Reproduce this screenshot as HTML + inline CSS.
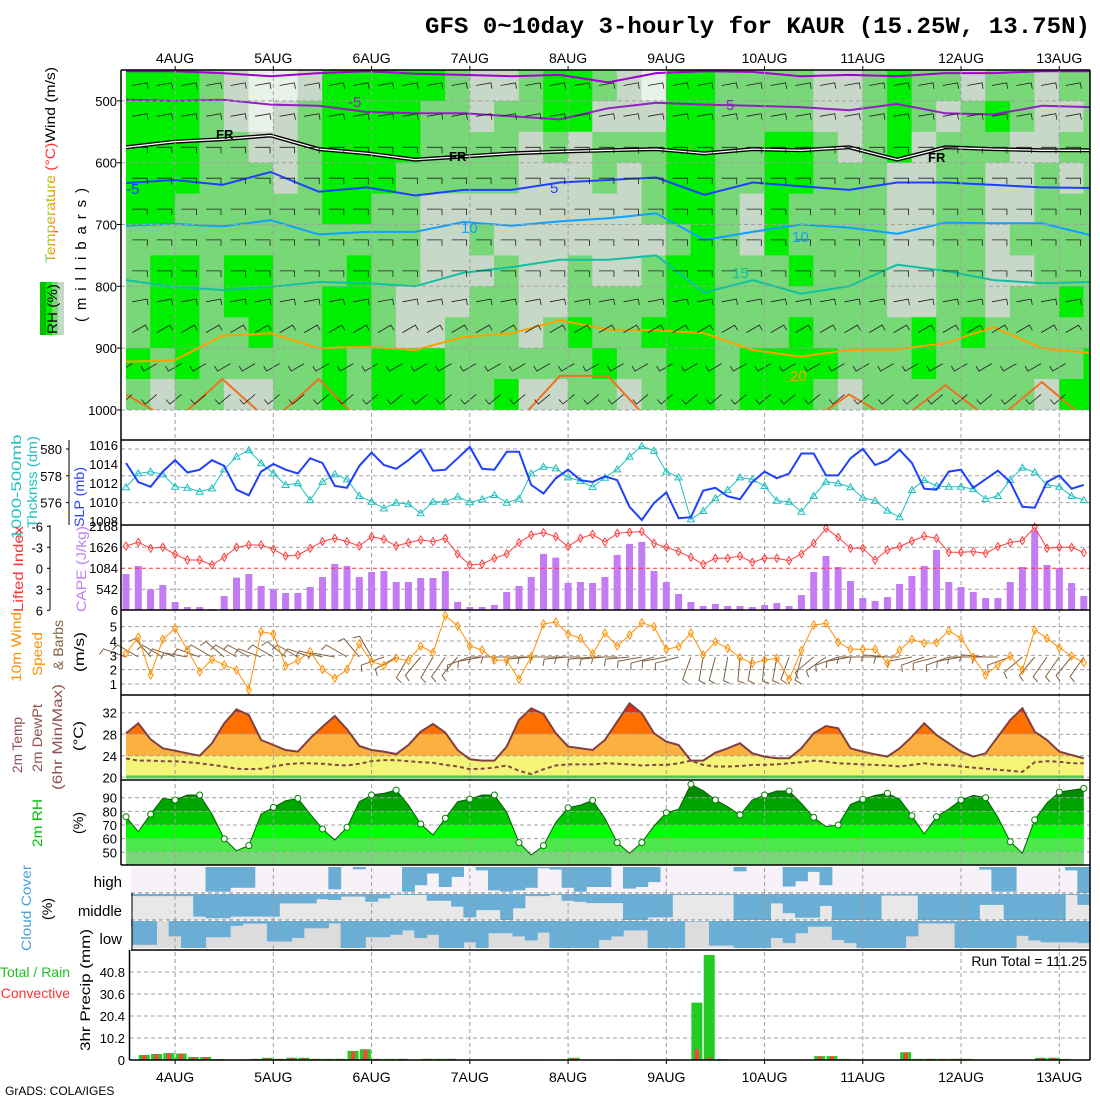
<!DOCTYPE html>
<html><head><meta charset="utf-8">
<style>
body{margin:0;background:#fff;width:1100px;height:1100px;overflow:hidden}
svg text{font-family:"Liberation Sans",sans-serif}
</style></head>
<body>
<svg id="chart" width="1100" height="1100" viewBox="0 0 1100 1100" xmlns="http://www.w3.org/2000/svg">
<defs>
<clipPath id="topClip"><rect x="126" y="70" width="964" height="340"/></clipPath>
<clipPath id="cloudClip"><rect x="131" y="865" width="959" height="85"/></clipPath>
<linearGradient id="tempGrad" x1="0" y1="1" x2="0" y2="0"><stop offset="0" stop-color="#ff3030"/><stop offset="0.35" stop-color="#ffa000"/><stop offset="0.6" stop-color="#a0d020"/><stop offset="1" stop-color="#00c8e0"/></linearGradient>
</defs>
<rect width="1100" height="1100" fill="#fff"/>
<text x="425" y="33" font-family="Liberation Mono, monospace" font-weight="bold" font-size="23" textLength="665" lengthAdjust="spacingAndGlyphs" style="font-family:'Liberation Mono',monospace">GFS 0~10day 3-hourly for KAUR (15.25W, 13.75N)</text>

<g id="layerFill"></g>
<g id="layerGrid"></g>
<g id="layerMarks"></g>
<g id="layerAxes"></g>

<!-- left labels -->
<g font-size="14">
<text transform="translate(55,165) rotate(-90)" text-anchor="middle" textLength="196" lengthAdjust="spacingAndGlyphs"><tspan fill="url(#tempGrad)">Temperature </tspan><tspan fill="#ff3030">(°C)</tspan><tspan fill="#000">Wind (m/s)</tspan></text>
<rect x="40" y="282" width="6" height="53" fill="#00c000"/>
<rect x="46" y="282" width="6" height="53" fill="#00ee00"/>
<rect x="52" y="282" width="6" height="53" fill="#78d878"/>
<rect x="58" y="282" width="6" height="53" fill="#c8d8c8"/>
<text transform="translate(57,309) rotate(-90)" text-anchor="middle" textLength="50" lengthAdjust="spacingAndGlyphs">RH (%)</text>
<text transform="translate(86,255) rotate(-90)" text-anchor="middle" font-size="15" textLength="134" lengthAdjust="spacing">(millibars)</text>
</g>
<g font-size="14">
<text transform="translate(21,487) rotate(-90)" text-anchor="middle" fill="#20c0c0" textLength="105" lengthAdjust="spacingAndGlyphs">1000-500mb</text>
<text transform="translate(37,482) rotate(-90)" text-anchor="middle" fill="#20c0c0" textLength="92" lengthAdjust="spacingAndGlyphs">Thcknss (dm)</text>
<text transform="translate(84,497) rotate(-90)" text-anchor="middle" fill="#3040ff" textLength="60" lengthAdjust="spacingAndGlyphs">SLP (mb)</text>
<text transform="translate(23,569) rotate(-90)" text-anchor="middle" fill="#ff3030" textLength="86" lengthAdjust="spacingAndGlyphs">Lifted Index</text>
<text transform="translate(86,569) rotate(-90)" text-anchor="middle" fill="#c080f0" textLength="86" lengthAdjust="spacingAndGlyphs">CAPE (J/kg)</text>
<text transform="translate(21,647) rotate(-90)" text-anchor="middle" fill="#ff9000" textLength="70" lengthAdjust="spacingAndGlyphs">10m Wind</text>
<text transform="translate(42,654) rotate(-90)" text-anchor="middle" fill="#ff9000" textLength="44" lengthAdjust="spacingAndGlyphs">Speed</text>
<text transform="translate(63,645) rotate(-90)" text-anchor="middle" fill="#806040" textLength="50" lengthAdjust="spacingAndGlyphs">&amp; Barbs</text>
<text transform="translate(84,652) rotate(-90)" text-anchor="middle" textLength="40" lengthAdjust="spacingAndGlyphs">(m/s)</text>
<text transform="translate(22,745) rotate(-90)" text-anchor="middle" fill="#905050" textLength="56" lengthAdjust="spacingAndGlyphs">2m Temp</text>
<text transform="translate(42,738) rotate(-90)" text-anchor="middle" fill="#905050" textLength="68" lengthAdjust="spacingAndGlyphs">2m DewPt</text>
<text transform="translate(62,737) rotate(-90)" text-anchor="middle" fill="#905050" textLength="106" lengthAdjust="spacingAndGlyphs">(6hr Min/Max)</text>
<text transform="translate(83,736) rotate(-90)" text-anchor="middle" textLength="30" lengthAdjust="spacingAndGlyphs">(°C)</text>
<text transform="translate(42,823) rotate(-90)" text-anchor="middle" fill="#00c000" textLength="48" lengthAdjust="spacingAndGlyphs">2m RH</text>
<text transform="translate(83,823) rotate(-90)" text-anchor="middle" textLength="22" lengthAdjust="spacingAndGlyphs">(%)</text>
<text transform="translate(31,908) rotate(-90)" text-anchor="middle" fill="#4aa0d8" textLength="86" lengthAdjust="spacingAndGlyphs">Cloud Cover</text>
<text transform="translate(52,909) rotate(-90)" text-anchor="middle" textLength="22" lengthAdjust="spacingAndGlyphs">(%)</text>
<text x="122" y="887" text-anchor="end" font-size="15">high</text>
<text x="122" y="916" text-anchor="end" font-size="15">middle</text>
<text x="122" y="944" text-anchor="end" font-size="15">low</text>
<text transform="translate(90,990) rotate(-90)" text-anchor="middle" textLength="122" lengthAdjust="spacingAndGlyphs">3hr Precip (mm)</text>
<text x="70" y="977" text-anchor="end" fill="#20c020">Total / Rain</text>
<text x="70" y="998" text-anchor="end" fill="#ff3030">Convective</text>
<text x="1087" y="966" text-anchor="end" font-size="14">Run Total = 111.25</text>
<text x="5" y="1095" font-size="12">GrADS: COLA/IGES</text>
</g>
<g font-size="15">
<text x="348" y="107" fill="#9020c0">-5</text>
<text x="726" y="110" fill="#9020c0">5</text>
<text x="216" y="139" font-size="13" font-weight="bold">FR</text>
<text x="449" y="161" font-size="13" font-weight="bold">FR</text>
<text x="928" y="162" font-size="13" font-weight="bold">FR</text>
<text x="126" y="194" fill="#2040ff">-5</text>
<text x="550" y="193" fill="#2040ff">5</text>
<text x="461" y="233" fill="#10a0ff">10</text>
<text x="792" y="242" fill="#10a0ff">10</text>
<text x="732" y="278" fill="#10c0a0">15</text>
<text x="790" y="381" fill="#ffa000">20</text>
</g>
</svg>

<script>
// ---------- data ----------
const dayLabels = ["4AUG","5AUG","6AUG","7AUG","8AUG","9AUG","10AUG","11AUG","12AUG","13AUG"];
const dayIndex = [4,12,20,28,36,44,52,60,68,76];
const pressureTicks = [500,600,700,800,900,1000];
const slpTicks = [1016,1014,1012,1010,1008];
const thickTicks = [580,578,576];
const liTicks = [-6,-3,0,3,6];
const capeTicks = [2168,1626,1084,542,6];
const windTicks = [1,2,3,4,5];
const tempTicks = [20,24,28,32];
const rhTicks = [50,60,70,80,90];
const precipTicks = [0,10.2,20.4,30.6,40.8];

const slp = [1014.1,1012.1,1011.6,1013.2,1014.4,1013.1,1013.4,1014.4,1013.8,1011.3,1010.7,1013.2,1014.0,1013.4,1013.0,1014.6,1014.1,1011.7,1011.5,1013.8,1015.2,1013.9,1013.5,1014.4,1015.5,1013.3,1013.4,1014.6,1015.8,1013.5,1013.4,1015.3,1015.3,1011.8,1010.9,1012.5,1013.4,1012.3,1012.1,1012.7,1012.3,1009.5,1008.1,1009.9,1011.0,1008.3,1008.4,1011.2,1011.5,1010.6,1010.3,1012.1,1013.2,1012.5,1013.0,1015.1,1015.1,1012.8,1012.8,1014.6,1015.6,1013.9,1014.4,1015.5,1014.1,1011.4,1011.3,1013.2,1013.4,1011.5,1012.4,1013.3,1012.1,1009.5,1009.4,1012.1,1012.8,1011.4,1011.8];
const thickness = [577.14,578.18,578.31,578.11,577.19,577.11,576.81,577.06,578.48,579.43,579.92,578.93,578.18,577.31,577.44,576.19,577.56,578.11,577.73,576.49,576.07,575.57,575.99,575.89,575.2,576.07,576.07,576.44,576.02,576.24,576.57,575.99,576.29,578.18,578.68,578.55,577.88,577.61,577.16,577.86,578.48,579.43,580.22,579.87,578.31,577.88,574.75,575.37,576.32,576.94,577.88,577.73,577.24,576.14,576.07,575.32,576.49,577.56,577.44,577.14,576.37,576.14,575.4,574.9,576.94,577.69,577.24,577.19,577.19,577.01,576.27,576.49,577.69,578.61,578.26,577.31,577.19,576.49,576.19];
const liftedIndex = [-3.19,-3.71,-2.86,-3.0,-2.0,-1.19,-1.19,-0.48,-1.57,-3.0,-3.33,-3.33,-2.71,-1.76,-1.9,-2.86,-3.81,-4.29,-3.81,-3.19,-4.52,-4.14,-3.19,-3.67,-4.05,-3.81,-4.29,-2.05,-0.48,-0.62,-1.43,-2.05,-3.67,-4.76,-5.1,-4.52,-3.1,-4.29,-4.86,-3.76,-5.0,-5.14,-5.24,-3.57,-3.0,-2.38,-1.57,-0.57,-1.43,-1.43,-1.76,-0.86,-1.43,-1.43,-1.1,-2.05,-3.57,-5.71,-4.43,-2.86,-2.86,-1.19,-2.62,-3.1,-3.9,-4.62,-4.29,-2.29,-2.29,-2.38,-2.14,-3.1,-3.67,-3.95,-5.86,-2.86,-3.0,-3.0,-2.24];
const cape = [929,1135,533,645,206,77,77,26,361,834,929,619,533,439,439,593,851,1187,1135,851,980,1006,722,722,826,826,1006,206,77,77,129,464,619,851,1445,1350,697,722,697,851,1419,1703,1754,1006,722,413,206,103,155,103,103,77,129,181,103,387,980,1393,1109,748,310,232,335,671,877,1135,1548,722,593,464,310,310,722,1109,2038,1161,1083,697,361];
const windSpeed = [3.14,4.26,1.63,4.12,4.88,3.37,1.86,2.72,2.33,1.98,0.6,4.65,4.49,2.26,2.63,3.26,2.02,1.4,2.02,3.79,2.56,2.3,2.79,2.63,3.65,3.19,5.77,5.05,3.65,3.37,2.67,2.67,1.33,2.91,5.19,5.33,4.49,4.19,3.09,4.56,3.65,4.42,5.28,5.0,3.42,3.6,4.56,3.02,3.95,3.49,2.84,2.44,2.67,2.79,1.33,3.33,5.12,5.23,3.91,3.42,3.42,3.42,2.44,3.37,4.12,3.84,3.88,4.72,4.19,2.86,1.63,2.33,2.95,1.98,4.77,4.19,3.53,2.95,2.49];
const windDir = [290,300,320,300,290,280,290,300,310,300,300,290,300,310,300,290,285,280,300,320,330,250,240,210,220,210,215,220,250,260,270,270,270,265,270,270,265,270,265,265,270,265,260,255,260,255,200,190,195,190,185,190,185,190,200,195,230,235,250,260,270,270,275,270,260,250,255,250,260,270,275,270,250,230,220,215,215,220,215];
const temp2m = [28.17,30.03,27.06,25.39,24.95,24.46,24.02,26.32,30.03,32.63,31.58,26.93,26.0,25.08,24.77,27.24,29.41,31.39,28.92,25.82,25.08,24.77,24.33,26.0,28.48,29.91,28.3,25.08,23.34,23.1,23.1,25.7,30.65,32.82,31.76,28.17,25.7,25.39,25.08,26.93,30.34,33.75,31.89,28.17,26.63,26.0,23.1,23.1,24.58,25.39,26.32,24.46,23.84,23.53,23.53,25.39,28.17,29.54,29.1,25.39,24.77,24.27,23.84,25.39,27.55,30.03,27.86,26.32,24.77,23.84,24.46,27.55,30.65,32.82,28.48,26.93,24.77,24.15,23.53];
const dewpt2m = [23.5,23.1,23.1,23.0,23.0,22.8,22.6,22.3,22.0,21.6,21.5,21.6,22.0,22.4,22.6,22.6,22.5,22.3,22.2,22.5,23.0,23.2,23.2,23.0,22.8,22.7,22.3,22.0,21.5,21.6,21.8,22.2,21.2,20.6,21.5,22.2,22.4,22.4,22.4,22.6,22.5,22.4,22.2,22.3,22.3,22.6,23.1,22.3,22.0,22.0,22.1,22.3,22.3,22.4,22.6,22.8,23.1,22.9,22.6,22.5,22.4,22.3,22.2,22.0,22.3,22.6,22.3,22.3,22.0,21.8,21.6,21.4,21.2,21.0,22.8,23.0,22.9,22.6,22.6];
const rh2m = [76.1,65.1,78.0,89.5,88.3,92.0,92.0,78.0,59.8,51.2,54.9,78.0,82.9,87.8,89.5,78.0,67.1,59.0,68.3,87.1,92.0,93.2,95.6,84.6,70.7,62.7,74.9,87.1,89.0,92.0,92.0,79.3,57.1,48.0,54.9,72.0,82.7,84.6,88.0,74.9,57.1,49.3,57.1,69.3,79.0,81.5,99.8,95.1,88.3,83.4,77.3,88.3,92.0,94.9,94.9,85.9,75.6,68.8,70.0,85.1,88.8,91.7,93.2,88.8,76.8,63.4,76.1,81.7,88.3,91.7,90.0,75.6,57.8,49.3,73.7,86.3,94.1,95.6,96.8];
const cloudHigh = [0,0,0,0,0,0,0,95,95,80,80,0,0,0,0,0,0,86,0,9,0,0,0,95,70,25,77,38,0,13,90,95,90,80,5,10,80,95,77,77,0,83,77,58,0,0,0,0,0,0,17,0,0,0,75,55,19,70,0,0,0,0,0,0,0,0,0,0,0,0,10,95,95,0,0,0,0,13,100];
const cloudMid = [8,8,8,8,8,8,87,93,93,87,87,87,87,36,36,36,20,23,10,10,30,17,4,4,4,26,26,49,90,62,62,100,55,8,8,4,26,30,35,35,35,100,100,90,90,4,4,4,4,4,100,100,100,36,74,91,91,46,100,100,100,100,6,6,6,100,100,100,100,100,42,42,100,100,100,100,100,4,42];
const cloudLow = [18,88,88,0,57,100,100,60,60,18,10,10,76,76,63,27,27,9,100,100,60,60,51,35,63,51,100,100,79,100,45,45,57,72,43,100,100,100,100,70,57,35,35,100,100,100,2,2,91,91,100,100,100,63,82,45,21,21,70,82,100,100,100,100,57,9,9,9,100,100,100,100,100,55,72,79,79,79,82];
const precipTotal = [0,2.3,2.8,3.2,3.0,1.4,1.4,0.4,0,0.3,0.5,1.0,0.5,1.0,1.0,0.5,0.5,0.5,4.2,5.0,0.5,0.5,0.5,0,0.5,0.5,0.5,0,0,0,0,0,0.3,0.3,0,0,1.0,0,0,0,0.3,0,0,0,0.3,0,26.6,48.7,0.4,0,0,0,0,0,0,0,1.8,1.8,0.5,0.3,0,0,0,3.6,0.5,0.5,0.5,0.5,0.5,0,0,0,0,0,1.0,1.0,0.5,0,0];
const precipConv = [0,2.2,2.7,3.2,2.9,1.3,1.4,0.3,0,0.3,0.5,0.9,0.5,1.0,0.9,0.5,0.4,0.5,4.0,4.8,0.5,0.4,0.5,0,0.5,0.4,0.5,0,0,0,0,0,0.3,0.3,0,0,0.9,0,0,0,0.3,0,0,0,0.3,0,5.0,1.2,0.3,0,0,0,0,0,0,0,1.7,1.7,0.4,0.3,0,0,0,3.5,0.4,0.5,0.4,0.5,0.4,0,0,0,0,0,0.9,1.0,0.4,0,0];
// RH cross-section categories (0 grey <70, 1 mid green, 2 bright >90, 3 pale), 11 layers 450-1000mb, 6-hourly columns
const rhLayerBase = [450,500,550,600,650,700,750,800,850,900,950];
const rhCodeRows = [
"2221033022222100122103221111001211011011",
"2221030122221101122000221111001210121001",
"2221100122221111010111221122101201110011",
"2221110122211111000101221122111001100101",
"2211111122110000000001221021111001100111",
"1111111111110010000000121021111001101111",
"1221221112110001001001221112111001100111",
"1221221122100011001111221111111001101121",
"1221121122100111012112221112111121211111",
"2121111121222111111211221222211121111112",
"1011001121222112001101221222101111111022"];
// isotherm pressures (mb), 12-hourly
const isoTop = [452,452,455,460,455,452,456,458,460,458,470,455,452,453,460,458,460,455,455,452,452];
const isoM5 = [498,500,498,506,508,518,520,520,525,530,512,503,506,508,510,515,505,520,522,508,510];
const isoFR = [575,566,562,556,578,585,595,590,585,582,580,578,585,578,580,575,595,575,578,580,580];
const isoP5 = [633,628,636,615,647,640,653,644,644,632,628,624,652,632,638,644,632,632,636,640,641];
const iso10 = [702,699,703,693,716,712,712,696,702,695,690,682,725,712,700,705,715,697,698,698,717];
const iso15 = [790,801,806,801,793,795,800,778,769,757,757,750,810,790,812,800,765,775,790,795,793];
const iso20 = [922,920,880,876,900,898,903,882,876,855,870,871,876,903,914,903,902,892,866,900,908];
const iso25 = [975,1020,950,1020,950,1030,1030,1030,1030,945,945,1030,1030,1030,1030,975,1020,960,1020,955,1020];
const levelWindDir = [80,80,90,90,90,90,90,80,60,240,230];

// ---------- scales ----------
const NS = 'http://www.w3.org/2000/svg';
const X0 = 126, DX = 12.28, XR = 1090;
const xAt = i => X0 + DX * i;
const yP = p => 70 + (p - 450) * 0.618;
const ySlp = v => 445 + (1016 - v) * 9.5;
const yTh = v => 449 + (580 - v) * 13.4;
const yLi = v => 568.3 + v * 7;
const yCape = v => 610 - v * 0.0388;
const yW = v => 684 - (v - 1) * 14.33;
const yT = v => 777.3 - (v - 20) * 5.38;
const yRH = v => 852.3 - (v - 50) * 1.365;
const yPr = v => 1060 - v * 2.157;
const gFill = document.getElementById('layerFill');
const gGrid = document.getElementById('layerGrid');
const gMarks = document.getElementById('layerMarks');
const gAxes = document.getElementById('layerAxes');
function el(tag, attrs, parent) {
  const e = document.createElementNS(NS, tag);
  for (const k in attrs) e.setAttribute(k, attrs[k]);
  parent.appendChild(e);
  return e;
}
function pts(arr, fy) { return arr.map((v, i) => xAt(i).toFixed(1) + ',' + fy(v).toFixed(1)).join(' '); }

// ---------- top panel: RH field ----------
const rhColors = ['#c8d8c8', '#78d878', '#00ee00', '#e8f2e8'];
const gTop = el('g', {'clip-path': 'url(#topClip)'}, gFill);


const colW = DX * 2;
rhCodeRows.forEach((row, r) => {
  for (let c = 0; c < row.length; c++) {
    const rc = el('rect', {x: (X0 + c * colW - 0.3).toFixed(1), y: yP(rhLayerBase[r]).toFixed(1), width: (colW + 0.6).toFixed(1), height: (yP(rhLayerBase[r] + 50) - yP(rhLayerBase[r]) + 0.5).toFixed(1), fill: rhColors[+row[c]]}, gTop);
    
    
  }
});
// isotherms
const isoStep = 78.5 / 20;
function isoLine(arr, color, w, name) {
  const p = arr.map((v, k) => xAt(k * isoStep).toFixed(1) + ',' + yP(v).toFixed(1)).join(' ');
  const l = el('polyline', {points: p, fill: 'none', stroke: color, 'stroke-width': w}, gTop);
  
  
  return p;
}
isoLine(isoTop, '#a000d0', 2, 'isotherm-top');
isoLine(isoM5, '#9020c0', 2, 'isotherm-minus5');
isoLine(isoFR, '#000', 4, 'freezing-level');
isoLine(isoFR, '#fff', 1.3, 'freezing-level-inner');
isoLine(isoP5, '#2040ff', 2, 'isotherm-5');
isoLine(iso10, '#10a0ff', 2, 'isotherm-10');
isoLine(iso15, '#10c0a0', 2, 'isotherm-15');
isoLine(iso20, '#ffa000', 2, 'isotherm-20');
isoLine(iso25, '#f07020', 2, 'isotherm-25');
// upper-air barbs
levelWindDir.forEach((d, r) => {
  const yc = yP(rhLayerBase[r] + 25);
  for (let i = 1; i < 79; i += 2) {
    const a = d * Math.PI / 180, L = 15;
    const x1 = xAt(i) - 6, y1 = yc, x2 = x1 + L * Math.sin(a), y2 = y1 - L * Math.cos(a);
    const fx = x2 + 6 * Math.sin(a + Math.PI / 2), fy = y2 - 6 * Math.cos(a + Math.PI / 2);
    const b = el('polyline', {points: `${x1.toFixed(1)},${y1.toFixed(1)} ${x2.toFixed(1)},${y2.toFixed(1)} ${fx.toFixed(1)},${fy.toFixed(1)}`, fill: 'none', stroke: '#202020', 'stroke-width': 0.8}, gTop);
    
    
  }
});

// ---------- gridlines ----------
function dash(x1, y1, x2, y2, name, color) {
  const l = el('line', {x1, y1, x2, y2, stroke: color || '#a0a0a0', 'stroke-width': 1, 'stroke-dasharray': '4,3'}, gGrid);
  
  
}
pressureTicks.slice(0, 5).forEach(p => dash(121, yP(p), XR, yP(p), 'pressure-gridline'));
dash(121, 410, XR, 410, 'pressure-gridline');
thickTicks.forEach(v => dash(121, yTh(v), XR, yTh(v), 'thickness-gridline'));
[-3, 3].forEach(v => dash(121, yLi(v), XR, yLi(v), 'li-gridline'));
windTicks.forEach(v => dash(121, yW(v), XR, yW(v), 'wind-gridline'));
tempTicks.forEach(v => dash(121, yT(v), XR, yT(v), 'temp-gridline'));
rhTicks.forEach(v => dash(121, yRH(v), XR, yRH(v), 'rh-gridline'));
precipTicks.slice(1).forEach(v => dash(130, yPr(v), XR, yPr(v), 'precip-gridline'));

// ---------- temperature panel ----------
const tPoly = xAt(0) + ',' + yT(20) + ' ' + pts(temp2m, yT) + ' ' + xAt(78) + ',' + yT(20);
const cp = el('clipPath', {id: 'tClip'}, gFill);
el('polygon', {points: tPoly}, cp);
const tBands = [[20, 24, '#f4f478'], [24, 28, '#fbb040'], [28, 32, '#ff7000'], [32, 40, '#e83010']];
const gT = el('g', {'clip-path': 'url(#tClip)'}, gFill);
tBands.forEach(b => {
  const r = el('rect', {x: X0, y: yT(b[1]), width: 964, height: yT(b[0]) - yT(b[1]), fill: b[2]}, gT);
  
  
});
const gs = el('rect', {x: X0, y: 775.5, width: xAt(78) - X0, height: 3, fill: '#40d040'}, gFill);



// ---------- RH panel ----------
const rPoly = xAt(0) + ',865 ' + pts(rh2m, yRH) + ' ' + xAt(78) + ',865';
const cp2 = el('clipPath', {id: 'rClip'}, gFill);
el('polygon', {points: rPoly}, cp2);
const rhBands = [[30, 50, '#78d878'], [50, 60, '#4ce84c'], [60, 70, '#00ff00'], [70, 80, '#00c800'], [80, 90, '#00a400'], [90, 110, '#008c00']];
const gR = el('g', {'clip-path': 'url(#rClip)'}, gFill);
rhBands.forEach(b => {
  const r = el('rect', {x: X0, y: yRH(b[1]), width: 964, height: yRH(b[0]) - yRH(b[1]), fill: b[2]}, gR);
  
  
});

// ---------- cloud panel ----------
const cloudRows = [[cloudHigh, 867, 26, '#f6f2f8', 'high'], [cloudMid, 894, 26, '#e8e8e8', 'middle'], [cloudLow, 921, 27, '#dcdcdc', 'low']];
const gC = el('g', {'clip-path': 'url(#cloudClip)'}, gFill);
cloudRows.forEach(row => {
  const bg = el('rect', {x: 131, y: row[1], width: 959, height: row[2], fill: row[3]}, gC);
  
  
  row[0].forEach((v, i) => {
    if (v <= 0) return;
    const r = el('rect', {x: (xAt(i) - DX / 2 - 0.3).toFixed(1), y: row[1], width: (DX + 0.6).toFixed(1), height: (row[2] * v / 100).toFixed(1), fill: '#6aaed6'}, gC);
    
    
  });
});

// day gridlines (vertical)
dayIndex.forEach(i => dash(xAt(i), 70, xAt(i), 1060, 'day-gridline'));
[893, 920].forEach(y => dash(131, y, XR, y, 'cloud-row-divider', '#808080'));

// ---------- marks ----------
function line(arr, fy, color, w, name, extra) {
  const l = el('polyline', Object.assign({points: pts(arr, fy), fill: 'none', stroke: color, 'stroke-width': w}, extra || {}), gMarks);
  
  
}
// thickness & SLP
line(thickness, yTh, '#20c0c0', 1, 'thickness-line');
thickness.forEach((v, i) => {
  const x = xAt(i), y = yTh(v);
  const m = el('path', {d: `M${x.toFixed(1)},${(y - 3.5).toFixed(1)} L${(x + 3.5).toFixed(1)},${(y + 2.5).toFixed(1)} L${(x - 3.5).toFixed(1)},${(y + 2.5).toFixed(1)} Z`, fill: 'none', stroke: '#20c0c0', 'stroke-width': 1}, gMarks);
  
  
});
line(slp, ySlp, '#2040ff', 2, 'slp-line');
// CAPE bars
cape.forEach((v, i) => {
  const r = el('rect', {x: (xAt(i) - 3.5).toFixed(1), y: yCape(v).toFixed(1), width: 7, height: (610 - yCape(v)).toFixed(1), fill: '#c47cf4'}, gMarks);
  
  
});
const zl = el('line', {x1: 121, y1: yLi(0), x2: XR, y2: yLi(0), stroke: '#ff3030', 'stroke-width': 1, 'stroke-dasharray': '4,3'}, gMarks);


line(liftedIndex, yLi, '#ff4040', 1, 'lifted-index-line');
function diamonds(arr, fy, color, name) {
  arr.forEach((v, i) => {
    const x = xAt(i), y = fy(v);
    const m = el('path', {d: `M${x.toFixed(1)},${(y - 4).toFixed(1)} L${(x + 2.5).toFixed(1)},${y.toFixed(1)} L${x.toFixed(1)},${(y + 4).toFixed(1)} L${(x - 2.5).toFixed(1)},${y.toFixed(1)} Z`, fill: 'none', stroke: color, 'stroke-width': 1}, gMarks);
    
    
  });
}
diamonds(liftedIndex, yLi, '#ff4040', 'li-marker');
// wind barbs
windDir.forEach((d, i) => {
  const a = d * Math.PI / 180, L = 24, x1 = xAt(i), y1 = 657;
  const x2 = x1 + L * Math.sin(a), y2 = y1 - L * Math.cos(a);
  const fx = x2 + 7 * Math.sin(a - Math.PI / 2.4), fy = y2 - 7 * Math.cos(a - Math.PI / 2.4);
  const b = el('polyline', {points: `${x1.toFixed(1)},${y1} ${x2.toFixed(1)},${y2.toFixed(1)} ${fx.toFixed(1)},${fy.toFixed(1)}`, fill: 'none', stroke: '#806040', 'stroke-width': 1}, gMarks);
  
  
});
line(windSpeed, yW, '#ff9000', 1, 'wind-speed-line');
diamonds(windSpeed, yW, '#ff9000', 'wind-speed-marker');
// temp & dewpoint
line(temp2m, yT, '#804040', 2, 'temp-line');
line(dewpt2m, yT, '#804848', 2, 'dewpoint-line', {'stroke-dasharray': '4,3'});
// RH line & markers
line(rh2m, yRH, '#006000', 1, 'rh-line');
rh2m.forEach((v, i) => {
  if (i % 2) return;
  const c = el('circle', {cx: xAt(i).toFixed(1), cy: yRH(v).toFixed(1), r: 3, fill: '#fff', stroke: '#008000', 'stroke-width': 1}, gMarks);
  
  
});
// precip bars
precipTotal.forEach((v, i) => {
  if (v <= 0) return;
  const g = el('rect', {x: (xAt(i) + 0.5).toFixed(1), y: yPr(v).toFixed(1), width: 11, height: (1060 - yPr(v)).toFixed(1), fill: '#22cc22'}, gMarks);
  
  
  const c = precipConv[i];
  if (c > 0) {
    const r = el('rect', {x: (xAt(i) + 4).toFixed(1), y: yPr(c).toFixed(1), width: 4, height: (1060 - yPr(c)).toFixed(1), fill: '#ff4040'}, gMarks);
    
    
  }
});

// ---------- axes & frames ----------
function solid(x1, y1, x2, y2, name, w) {
  const l = el('line', {x1, y1, x2, y2, stroke: '#000', 'stroke-width': w || 1.5}, gAxes);
  
  
}
solid(121, 70, XR, 70, 'top-frame');
[440, 525, 610, 695, 780, 865].forEach(y => solid(121, y, XR, y, 'panel-divider'));
solid(131, 950, XR, 950, 'panel-divider');
solid(129.5, 1060, XR, 1060, 'precip-x-axis');
solid(121, 70, 121, 865, 'left-frame');
solid(XR, 70, XR, 1060, 'right-frame');
solid(132, 893, 132, 950, 'cloud-left-frame', 1);
solid(129.5, 950, 129.5, 1060, 'precip-y-axis');
solid(69, 440, 69, 525, 'thickness-axis', 1);
solid(50, 525, 50, 610, 'li-axis', 1);
function label(x, y, txt, anchor, name, size) {
  const t = el('text', {x, y, 'text-anchor': anchor, 'font-size': size || 13}, gAxes);
  t.textContent = txt;
  
  
}
dayLabels.forEach((d, k) => {
  const x = xAt(dayIndex[k]);
  label(x, 63, d, 'middle', 'top-date-label', 14);
  label(x, 1082, d, 'middle', 'bottom-date-label', 14);
  solid(x, 66, x, 70, 'date-tick', 1);
  solid(x, 1060, x, 1064, 'date-tick', 1);
});
pressureTicks.forEach(p => { label(117, yP(p) + 5, p, 'end', 'pressure-tick-label'); solid(117, yP(p), 121, yP(p), 'pressure-tick', 1); });
slpTicks.forEach(v => label(118, ySlp(v) + 5, v, 'end', 'slp-tick-label'));
thickTicks.forEach(v => { label(62, yTh(v) + 5, v, 'end', 'thickness-tick-label'); solid(66, yTh(v), 69, yTh(v), 'thickness-tick', 1); });
liTicks.forEach(v => { label(43, yLi(v) + 5, v, 'end', 'li-tick-label'); solid(47, yLi(v), 50, yLi(v), 'li-tick', 1); });
capeTicks.forEach(v => label(118, yCape(v) + 5, v, 'end', 'cape-tick-label'));
windTicks.forEach(v => label(117, yW(v) + 5, v, 'end', 'wind-tick-label'));
tempTicks.forEach(v => label(117, yT(v) + 5, v, 'end', 'temp-tick-label'));
rhTicks.forEach(v => label(117, yRH(v) + 5, v, 'end', 'rh-tick-label'));
precipTicks.forEach(v => label(125, yPr(v) + 5, v, 'end', 'precip-tick-label'));
</script>
</body></html>
